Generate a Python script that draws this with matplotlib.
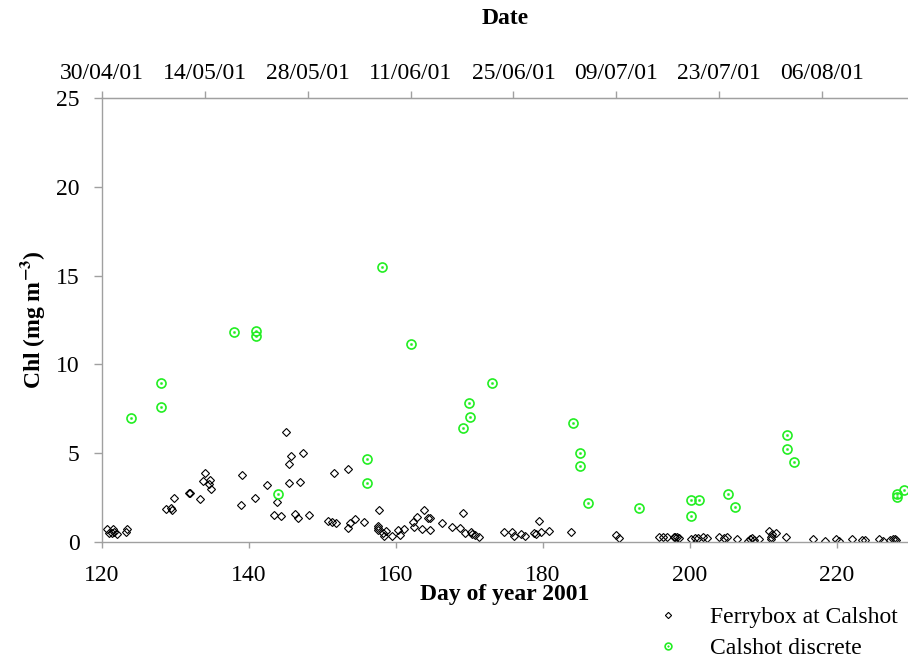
import matplotlib
matplotlib.use("Agg")
import matplotlib.pyplot as plt
from matplotlib.legend_handler import HandlerTuple

# Ferrybox at Calshot (day of year, chl mg m-3)
ferry_day = [120.7, 120.9, 121.4, 121.5, 121.7, 122.0, 123.2, 123.4,
             128.7, 129.4, 129.5, 129.8, 131.8, 132.0, 133.3,
             133.8, 134.0, 134.6, 134.7, 134.8, 138.9, 139.0, 140.8, 142.4,
             143.4, 143.8, 144.4, 145.1, 145.4, 145.4, 145.7, 146.3, 146.7,
             147.0, 147.4, 148.2, 150.7, 151.3, 151.6, 151.9, 153.5, 153.5,
             153.7, 154.5, 155.6, 157.5, 157.6, 157.6, 157.7, 158.3, 158.4,
             158.6, 159.5, 160.3, 160.5, 161.1, 162.3, 162.5, 162.9, 163.5,
             163.8, 164.4, 164.6, 164.7, 166.3, 167.6, 168.7, 169.1, 169.4,
             170.2, 170.4, 170.7, 171.3, 174.7, 175.8, 176.1, 177.0, 177.6,
             178.8, 179.1, 179.5, 179.7, 180.9, 183.8, 190.0, 190.3,
             195.8, 196.4, 196.9, 197.8, 198.0, 198.3, 198.6,
             200.1, 200.7, 201.1, 201.8, 202.4, 204.0, 204.7, 205.0, 206.4,
             207.9, 208.2, 208.5, 208.7, 209.4, 210.8, 211.0, 211.0, 211.2,
             211.8, 213.1, 216.8, 218.4, 219.9, 220.3, 222.1, 223.4, 223.9,
             225.7, 226.3, 227.2, 227.6, 227.9, 228.1]
ferry_chl = [0.75, 0.49, 0.49, 0.72, 0.58, 0.43, 0.56, 0.72,
             1.84, 1.90, 1.80, 2.48, 2.78, 2.74, 2.42,
             3.44, 3.87, 3.27, 3.49, 3.00, 2.10, 3.79, 2.50, 3.21,
             1.50, 2.25, 1.45, 6.18, 4.38, 3.30, 4.85, 1.58, 1.37,
             3.38, 5.03, 1.54, 1.20, 1.13, 3.90, 1.05, 4.11, 0.77,
             1.07, 1.30, 1.13, 0.90, 0.79, 0.70, 1.80, 0.53, 0.36,
             0.64, 0.36, 0.69, 0.41, 0.75, 1.12, 0.86, 1.39, 0.75,
             1.80, 1.33, 0.67, 1.33, 1.07, 0.85, 0.80, 1.62, 0.49,
             0.55, 0.45, 0.39, 0.28, 0.55, 0.55, 0.36, 0.43, 0.34,
             0.51, 0.47, 1.17, 0.55, 0.60, 0.56, 0.39, 0.24,
             0.30, 0.30, 0.30, 0.26, 0.26, 0.26, 0.24,
             0.19, 0.21, 0.23, 0.28, 0.24, 0.30, 0.23, 0.30, 0.15,
             0.07, 0.17, 0.21, 0.11, 0.15, 0.64, 0.30, 0.17, 0.43,
             0.52, 0.29, 0.15, 0.07, 0.15, 0.07, 0.15, 0.11, 0.11,
             0.15, 0.07, 0.11, 0.15, 0.15, 0.13]

# Calshot discrete samples
disc_day = [123.9, 128.0, 128.0, 138.0, 141.0, 141.0, 144.0, 156.0, 156.0,
            158.1, 162.0, 169.1, 170.0, 170.1, 173.1, 184.1, 185.1, 185.1,
            186.1, 193.1, 200.2, 200.2, 201.2, 205.2, 206.2, 213.2, 213.2,
            214.2, 228.2, 228.2, 229.2]
disc_chl = [6.99, 8.96, 7.60, 11.8, 11.9, 11.6, 2.72, 4.66, 3.32,
            15.5, 11.14, 6.40, 7.83, 7.04, 8.98, 6.70, 5.03, 4.30,
            2.22, 1.93, 2.38, 1.46, 2.35, 2.72, 1.95, 6.05, 5.24,
            4.50, 2.72, 2.52, 2.93]

date_ticks = [120, 134, 148, 162, 176, 190, 204, 218]
date_labels = ['30/04/01', '14/05/01', '28/05/01', '11/06/01',
               '25/06/01', '09/07/01', '23/07/01', '06/08/01']

plt.rcParams['font.family'] = 'serif'
plt.rcParams['font.serif'] = ['Liberation Serif', 'DejaVu Serif']
plt.rcParams['mathtext.fontset'] = 'stix'
plt.rcParams['font.size'] = 17

grey = '#a0a0a0'
green = '#22ee22'

fig = plt.figure(figsize=(9.08, 6.6), dpi=100)
ax = fig.add_axes([102 / 908, 1 - 542 / 660, 806 / 908, 444 / 660])

h1, = ax.plot(ferry_day, ferry_chl, linestyle='none', marker='D', ms=4.2,
              mfc='none', mec='black', mew=0.8)
h2, = ax.plot(disc_day, disc_chl, linestyle='none', marker='o', ms=6.5,
              mfc='none', mec=green, mew=1.2)
h3, = ax.plot(disc_day, disc_chl, linestyle='none', marker='o', ms=1.6,
              mfc=green, mec=green, mew=0.3)

ax.set_xlim(120, 229.7)
ax.set_ylim(0, 25)
ax.set_xticks([120, 140, 160, 180, 200, 220])
ax.set_yticks([0, 5, 10, 15, 20, 25])

for side in ['left', 'bottom', 'top']:
    ax.spines[side].set_color(grey)
    ax.spines[side].set_linewidth(1.0)
ax.spines['right'].set_visible(False)

ax.tick_params(axis='x', direction='out', length=4.5, width=1, color=grey, pad=12)
ax.tick_params(axis='y', direction='out', length=6, width=1, color=grey, pad=10)

top = ax.secondary_xaxis('top')
top.set_xticks(date_ticks)
top.set_xticklabels(date_labels)
top.spines['top'].set_color(grey)
top.tick_params(direction='out', length=5, width=1, color=grey, pad=5)

ax.set_xlabel('Day of year 2001', fontweight='bold')
ax.xaxis.set_label_coords(0.5, -0.095)
ax.set_ylabel(r'Chl (mg m$^{\mathbf{-3}}$)', fontweight='bold')
ax.yaxis.set_label_coords(-0.068, 0.5)

fig.text(505 / 908, 1 - 18 / 660, 'Date', ha='center', va='center',
         fontweight='bold')

ax.legend([h1, (h2, h3)], ['Ferrybox at Calshot', 'Calshot discrete'],
          handler_map={tuple: HandlerTuple(ndivide=1)},
          loc='upper left', bbox_to_anchor=(623 / 908, 1 - 585 / 660),
          bbox_transform=fig.transFigure, frameon=False,
          labelspacing=0.42, handletextpad=0.8, markerscale=0.75)

fig.savefig('out.png', dpi=100)
